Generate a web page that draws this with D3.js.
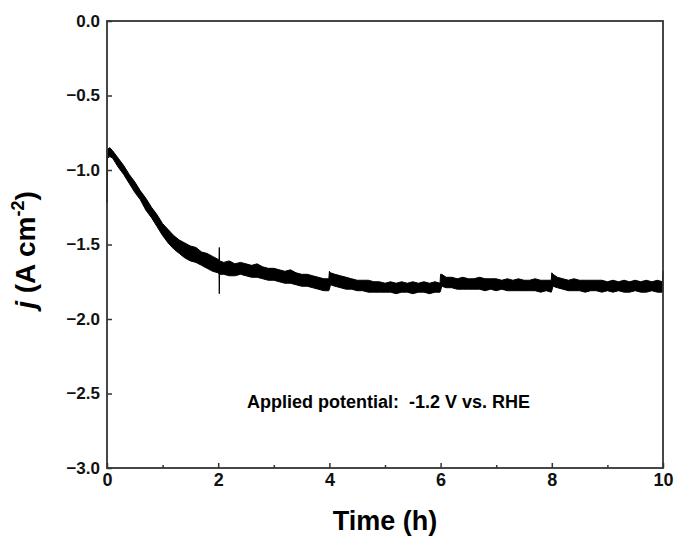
<!DOCTYPE html>
<html>
<head>
<meta charset="utf-8">
<title>Chronoamperometry</title>
<script src="https://d3js.org/d3.v7.min.js"></script>
<style>
  body { margin: 0; background: #fff; }
  svg { display: block; font-family: "Liberation Sans", Arial, sans-serif; }
  .tick text { font-size: 17px; font-weight: bold; fill: #111; }
  .annot { white-space: pre; }
</style>
</head>
<body>
<script>
// time (h), upper and lower edge of the noisy current band (A cm^-2)
const timeH = [0, 0.01, 0.05, 0.1, 0.2, 0.3, 0.4, 0.5, 0.6, 0.7, 0.8, 0.9, 1.0, 1.1, 1.2, 1.3, 1.4, 1.5, 1.6, 1.7, 1.8, 1.9, 2.0,
  2.015, 2.02, 2.025, 2.1, 2.2, 2.3, 2.4, 2.5, 2.6, 2.7, 2.8, 2.9, 3.0, 3.1, 3.2, 3.3, 3.4, 3.5, 3.6, 3.7, 3.8, 3.9, 3.99,
  4.0, 4.02, 4.1, 4.2, 4.3, 4.4, 4.5, 4.6, 4.7, 4.8, 4.9, 5.0, 5.1, 5.2, 5.3, 5.4, 5.5, 5.6, 5.7, 5.8, 5.9, 5.99,
  6.0, 6.02, 6.1, 6.2, 6.3, 6.4, 6.5, 6.6, 6.7, 6.8, 6.9, 7.0, 7.1, 7.2, 7.3, 7.4, 7.5, 7.6, 7.7, 7.8, 7.9, 7.99,
  8.0, 8.02, 8.1, 8.2, 8.3, 8.4, 8.5, 8.6, 8.7, 8.8, 8.9, 9.0, 9.1, 9.2, 9.3, 9.4, 9.5, 9.6, 9.7, 9.8, 9.9, 9.99, 10.0]
const jUpper = [-0.87, -0.86, -0.85, -0.87, -0.92, -0.97, -1.03, -1.08, -1.14, -1.19, -1.25, -1.30, -1.36, -1.40, -1.44, -1.47, -1.49, -1.51, -1.52, -1.55, -1.56, -1.58, -1.60,
  -1.60, -1.52, -1.61, -1.62, -1.61, -1.63, -1.62, -1.63, -1.64, -1.63, -1.65, -1.66, -1.66, -1.67, -1.68, -1.67, -1.69, -1.70, -1.70, -1.71, -1.72, -1.73, -1.73,
  -1.68, -1.69, -1.70, -1.71, -1.72, -1.73, -1.74, -1.74, -1.74, -1.75, -1.75, -1.76, -1.75, -1.76, -1.75, -1.76, -1.75, -1.76, -1.75, -1.76, -1.75, -1.76,
  -1.70, -1.70, -1.72, -1.72, -1.73, -1.72, -1.73, -1.73, -1.72, -1.73, -1.73, -1.73, -1.74, -1.73, -1.74, -1.73, -1.74, -1.74, -1.73, -1.74, -1.74, -1.74,
  -1.69, -1.70, -1.72, -1.73, -1.74, -1.73, -1.74, -1.74, -1.74, -1.74, -1.74, -1.75, -1.74, -1.75, -1.74, -1.75, -1.74, -1.75, -1.74, -1.75, -1.74, -1.75, -1.68]
const jLower = [-1.22, -0.92, -0.91, -0.92, -0.98, -1.03, -1.09, -1.15, -1.20, -1.27, -1.32, -1.38, -1.44, -1.49, -1.53, -1.56, -1.59, -1.61, -1.62, -1.64, -1.66, -1.68, -1.69,
  -1.70, -1.83, -1.70, -1.70, -1.71, -1.71, -1.70, -1.71, -1.72, -1.72, -1.73, -1.74, -1.74, -1.75, -1.76, -1.76, -1.77, -1.78, -1.78, -1.79, -1.80, -1.81, -1.81,
  -1.80, -1.77, -1.78, -1.79, -1.80, -1.80, -1.81, -1.81, -1.82, -1.82, -1.82, -1.82, -1.82, -1.83, -1.82, -1.82, -1.83, -1.82, -1.82, -1.83, -1.82, -1.82,
  -1.81, -1.78, -1.79, -1.79, -1.80, -1.80, -1.80, -1.80, -1.80, -1.81, -1.80, -1.81, -1.80, -1.81, -1.81, -1.81, -1.81, -1.81, -1.81, -1.82, -1.81, -1.82,
  -1.81, -1.78, -1.79, -1.80, -1.81, -1.81, -1.81, -1.82, -1.81, -1.81, -1.82, -1.81, -1.82, -1.81, -1.82, -1.82, -1.81, -1.82, -1.82, -1.81, -1.82, -1.82, -1.81]

const xMajor = [0, 2, 4, 6, 8, 10]
const xMinor = [1, 3, 5, 7, 9]
const yMajor = [0, -0.5, -1.0, -1.5, -2.0, -2.5, -3.0]

const W = 679, H = 539
const margin = { top: 21, right: 16, bottom: 71, left: 107 }
const width = W - margin.left - margin.right
const height = H - margin.top - margin.bottom

const svg = d3.select('body').append('svg')
  .attr('width', W)
  .attr('height', H)

const g = svg.append('g')
  .attr('transform', 'translate(' + margin.left + ',' + margin.top + ')')

const x = d3.scaleLinear().domain([0, 10]).range([0, width])
const y = d3.scaleLinear().domain([-3, 0]).range([height, 0])

const data = timeH.map((t, i) => ({ t: t, hi: jUpper[i], lo: jLower[i] }))

// noisy band
const area = d3.area()
  .x(d => x(d.t))
  .y0(d => y(d.lo))
  .y1(d => y(d.hi))
g.append('path')
  .datum(data)
  .attr('d', area)
  .attr('fill', '#000')
  .attr('stroke', '#000')
  .attr('stroke-width', 1)
  .attr('stroke-linejoin', 'miter')

const fmt = d => d3.format('.1f')(d).replace('-', '\u2212')

// axes with inward ticks
const xAxis = g.append('g')
  .attr('transform', 'translate(0,' + height + ')')
  .call(d3.axisBottom(x).tickValues(xMajor).tickSizeInner(-5).tickSizeOuter(0).tickPadding(5).tickFormat(d3.format('d')))
xAxis.select('.domain').remove()
xAxis.selectAll('.tick line').attr('stroke', '#333').attr('stroke-width', 1.5)
xAxis.selectAll('.tick text').style('font-size', '18px')

const xMinorAxis = g.append('g')
  .attr('transform', 'translate(0,' + height + ')')
  .call(d3.axisBottom(x).tickValues(xMinor).tickSizeInner(-3).tickSizeOuter(0).tickFormat(''))
xMinorAxis.select('.domain').remove()
xMinorAxis.selectAll('.tick line').attr('stroke', '#333').attr('stroke-width', 1.5)

const yAxis = g.append('g')
  .call(d3.axisLeft(y).tickValues(yMajor).tickSizeInner(-5).tickSizeOuter(0).tickPadding(7).tickFormat(fmt))
yAxis.select('.domain').remove()
yAxis.selectAll('.tick line').attr('stroke', '#333').attr('stroke-width', 1.5)

// frame
g.append('rect')
  .attr('x', 0).attr('y', 0)
  .attr('width', width).attr('height', height)
  .attr('fill', 'none')
  .attr('stroke', '#333')
  .attr('stroke-width', 1.8)

// axis titles
svg.append('text')
  .attr('x', margin.left + width / 2)
  .attr('y', 530)
  .attr('text-anchor', 'middle')
  .style('font-size', '27px')
  .style('font-weight', 'bold')
  .text('Time (h)')

const yt = svg.append('text')
  .attr('transform', 'translate(35,250) rotate(-90)')
  .attr('text-anchor', 'middle')
  .style('font-size', '28px')
  .style('font-weight', 'bold')
yt.append('tspan').style('font-style', 'italic').text('j')
yt.append('tspan').text(' (A cm')
yt.append('tspan').attr('dy', -11).style('font-size', '18px').text('-2')
yt.append('tspan').attr('dy', 11).text(')')

// annotation
svg.append('text')
  .attr('class', 'annot')
  .attr('x', 247)
  .attr('y', 408)
  .style('font-size', '18px')
  .style('font-weight', 'bold')
  .text('Applied potential:  -1.2 V vs. RHE')
</script>
</body>
</html>
